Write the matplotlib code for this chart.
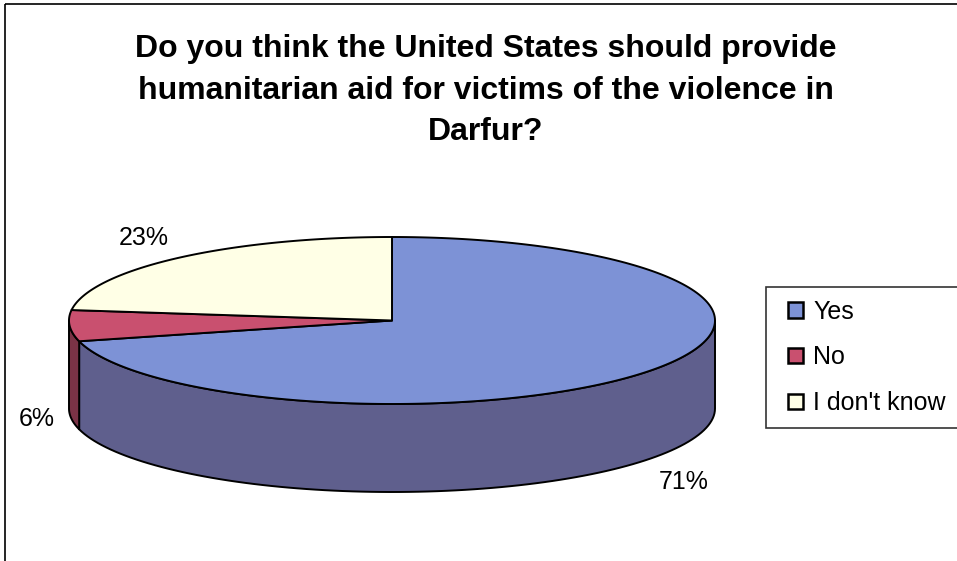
import matplotlib.pyplot as plt
import numpy as np
from matplotlib.patches import Polygon, Rectangle, Patch
from matplotlib.legend_handler import HandlerPatch

# survey answers (percent)
labels = ['Yes', 'No', "I don't know"]
values = [71, 6, 23]
top_colors = ['#7d92d6', '#c9506f', '#ffffe6']
side_colors = ['#5f5f8d', '#7a3346', '#b3b3a0']

title_lines = ['Do you think the United States should provide',
               'humanitarian aid for victims of the violence in',
               'Darfur?']

plt.rcParams['font.family'] = ['Liberation Sans', 'DejaVu Sans']

# pie layout in pixels
cx, cy = 392, 320.5
rx, ry = 323, 83.5
depth = 88

fig = plt.figure(figsize=(9.57, 5.61), dpi=100)
ax = fig.add_axes([0, 0, 1, 1])
ax.set_xlim(0, 957)
ax.set_ylim(561, 0)
ax.axis('off')


def ellipse(theta, dy=0):
    t = np.radians(theta)
    return cx + rx * np.cos(t), cy - ry * np.sin(t) + dy


# angles: start at 12 o'clock, go clockwise
total = sum(values)
starts = []
ends = []
a = 90.0
for v in values:
    starts.append(a)
    a = a - 360.0 * v / total
    ends.append(a)

# sides first (only the front half shows)
for i in range(len(values)):
    hi, lo = starts[i], ends[i]
    for f0, f1 in [(-180, 0), (-540, -360), (180, 360)]:
        s0 = max(lo, f0)
        s1 = min(hi, f1)
        if s1 <= s0:
            continue
        th = np.linspace(s0, s1, 100)
        xt, yt = ellipse(th)
        xb, yb = ellipse(th[::-1], depth)
        pts = np.column_stack([np.concatenate([xt, xb]), np.concatenate([yt, yb])])
        ax.add_patch(Polygon(pts, closed=True, facecolor=side_colors[i],
                             edgecolor='black', lw=1.4, joinstyle='round'))

# top faces
for i in range(len(values)):
    th = np.linspace(starts[i], ends[i], 200)
    xs, ys = ellipse(th)
    pts = np.column_stack([np.concatenate([[cx], xs]), np.concatenate([[cy], ys])])
    ax.add_patch(Polygon(pts, closed=True, facecolor=top_colors[i],
                         edgecolor='black', lw=1.4, joinstyle='round'))

# percentage labels outside the pie
for i, v in enumerate(values):
    mid = (starts[i] + ends[i]) / 2
    t = np.radians(mid)
    lx = cx + 1.045 * rx * np.cos(t)
    ly = cy - 1.2 * ry * np.sin(t)
    if np.sin(t) < 0:
        ly += depth
    ha = 'right' if np.cos(t) < -0.3 else ('left' if np.cos(t) > 0.3 else 'center')
    if np.sin(t) > 0.3:
        va = 'baseline'
    elif np.sin(t) < -0.3:
        va = 'top'
    else:
        va = 'center'
    ax.text(lx, ly + (4 if va == 'center' else 0), f'{v}%', fontsize=18, ha=ha, va=va)

# title, one line at a time so the spacing is fixed
for k, line in enumerate(title_lines):
    ax.text(486, 57 + 41.5 * k, line, fontsize=23, fontweight='bold',
            ha='center', va='baseline')

# chart frame
ax.add_patch(Rectangle((5, 4), 1000, 600, fill=False, edgecolor='black', lw=1.2))


def square_key(legend, orig_handle, xdescent, ydescent, width, height, fontsize):
    side = height
    return Rectangle((-xdescent + width - side, -ydescent), side, side)


handles = [Patch(facecolor=c, edgecolor='black', lw=1.8) for c in top_colors]
leg = ax.legend(handles, labels, loc='center left', bbox_to_anchor=(766 / 957, 1 - 357.5 / 561),
                fontsize=18, frameon=True, fancybox=False, handlelength=0.98, handleheight=0.56,
                handletextpad=0.4, labelspacing=0.87, borderpad=0.5, borderaxespad=0,
                handler_map={Patch: HandlerPatch(patch_func=square_key)})
leg.get_frame().set_edgecolor('black')
leg.get_frame().set_linewidth(1.2)

plt.savefig('out.png', dpi=100)
